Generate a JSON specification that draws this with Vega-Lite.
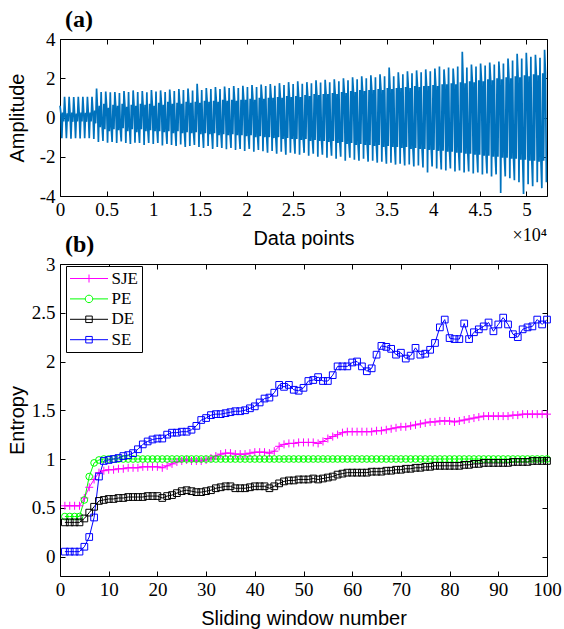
{
"$schema": "https://vega.github.io/schema/vega-lite/v6.json",
"background": "white",
"padding": {"left": 6, "top": 7, "right": 8, "bottom": 2},
"bounds": "flush",
"spacing": 68,
"resolve": {"scale": {"color": "independent", "shape": "independent"}},
"config": {
 "view": {"stroke": "black", "strokeWidth": 1},
 "axis": {"labelFont": "Liberation Serif", "labelFontSize": 19, "labelColor": "black", "titleFont": "Liberation Sans", "titleFontSize": 20, "titleFontWeight": "normal", "titleColor": "black", "tickColor": "black", "tickSize": -5, "domain": false, "grid": false, "labelFlush": false, "labelOverlap": false},
 "axisX": {"labelPadding": 9, "titlePadding": 9},
 "axisY": {"labelPadding": 10},
 "title": {"font": "Liberation Serif", "fontSize": 24, "fontWeight": "bold", "anchor": "start", "frame": "group", "color": "black", "offset": -2, "dx": 5}
},
"vconcat": [
{
 "width": 487, "height": 157,
 "title": "(a)",
 "layer": [
  {
   "data": {"values": [
{"t":0,"a":0.6},{"t":98,"a":0.2},{"t":196,"a":-1.05},{"t":294,"a":0.25},{"t":392,"a":-0.2},
{"t":490,"a":1.05},{"t":588,"a":0.15},{"t":686,"a":-1.05},{"t":784,"a":0.22},{"t":882,"a":-0.2},
{"t":980,"a":1.05},{"t":1078,"a":0.2},{"t":1176,"a":-1.08},{"t":1274,"a":0.25},{"t":1372,"a":-0.22},
{"t":1470,"a":1.04},{"t":1568,"a":0.18},{"t":1666,"a":-1.05},{"t":1764,"a":0.2},{"t":1862,"a":-0.2},
{"t":1960,"a":1.06},{"t":2058,"a":0.2},{"t":2156,"a":-1.07},{"t":2254,"a":0.25},{"t":2352,"a":-0.2},
{"t":2450,"a":1.05},{"t":2548,"a":0.22},{"t":2646,"a":-1.06},{"t":2744,"a":0.24},{"t":2842,"a":-0.22},
{"t":2940,"a":1.05},{"t":3038,"a":0.2},{"t":3136,"a":-1.05},{"t":3234,"a":0.25},{"t":3332,"a":-0.2},
{"t":3430,"a":1.06},{"t":3528,"a":0.3},{"t":3626,"a":-1.1},{"t":3724,"a":0.35},{"t":3822,"a":-0.3},
{"t":3920,"a":1.48},{"t":4018,"a":0.5},{"t":4116,"a":-1.25},{"t":4214,"a":0.6},{"t":4312,"a":-0.5},
{"t":4410,"a":1.3},{"t":4508,"a":-0.4},{"t":4606,"a":-1.2},{"t":4704,"a":0.7},{"t":4802,"a":-0.6},
{"t":4900,"a":1.32},{"t":4998,"a":0.6},{"t":5096,"a":-1.28},{"t":5194,"a":0.5},{"t":5292,"a":-0.7},
{"t":5390,"a":1.28},{"t":5488,"a":-0.5},{"t":5586,"a":-1.25},{"t":5684,"a":0.65},{"t":5782,"a":-0.6},
{"t":5880,"a":1.3},{"t":5978,"a":0.55},{"t":6076,"a":-1.3},{"t":6174,"a":0.6},{"t":6272,"a":-0.65},
{"t":6370,"a":1.25},{"t":6468,"a":-0.6},{"t":6566,"a":-1.22},{"t":6664,"a":0.7},{"t":6762,"a":-0.55},
{"t":6860,"a":1.35},{"t":6958,"a":0.6},{"t":7056,"a":-1.3},{"t":7154,"a":0.55},{"t":7252,"a":-0.7},
{"t":7350,"a":1.3},{"t":7448,"a":-0.5},{"t":7546,"a":-1.35},{"t":7644,"a":0.65},{"t":7742,"a":-0.6},
{"t":7840,"a":1.38},{"t":7938,"a":0.6},{"t":8036,"a":-1.28},{"t":8134,"a":0.6},{"t":8232,"a":-0.75},
{"t":8330,"a":1.3},{"t":8428,"a":-0.6},{"t":8526,"a":-1.3},{"t":8624,"a":0.7},{"t":8722,"a":-0.6},
{"t":8820,"a":1.35},{"t":8918,"a":0.55},{"t":9016,"a":-1.4},{"t":9114,"a":0.65},{"t":9212,"a":-0.7},
{"t":9310,"a":1.28},{"t":9408,"a":-0.6},{"t":9506,"a":-1.3},{"t":9604,"a":0.7},{"t":9702,"a":-0.65},
{"t":9800,"a":1.4},{"t":9898,"a":0.65},{"t":9996,"a":-1.35},{"t":10094,"a":0.6},{"t":10192,"a":-0.7},
{"t":10290,"a":1.32},{"t":10388,"a":-0.6},{"t":10486,"a":-1.3},{"t":10584,"a":0.75},{"t":10682,"a":-0.7},
{"t":10780,"a":1.38},{"t":10878,"a":0.7},{"t":10976,"a":-1.42},{"t":11074,"a":0.65},{"t":11172,"a":-0.75},
{"t":11270,"a":1.3},{"t":11368,"a":-0.65},{"t":11466,"a":-1.35},{"t":11564,"a":0.8},{"t":11662,"a":-0.7},
{"t":11760,"a":1.42},{"t":11858,"a":0.7},{"t":11956,"a":-1.4},{"t":12054,"a":0.7},{"t":12152,"a":-0.8},
{"t":12250,"a":1.35},{"t":12348,"a":-0.7},{"t":12446,"a":-1.45},{"t":12544,"a":0.75},{"t":12642,"a":-0.7},
{"t":12740,"a":1.45},{"t":12838,"a":0.75},{"t":12936,"a":-1.38},{"t":13034,"a":0.7},{"t":13132,"a":-0.8},
{"t":13230,"a":1.4},{"t":13328,"a":-0.7},{"t":13426,"a":-1.5},{"t":13524,"a":0.8},{"t":13622,"a":-0.75},
{"t":13720,"a":1.48},{"t":13818,"a":0.75},{"t":13916,"a":-1.45},{"t":14014,"a":0.75},{"t":14112,"a":-0.8},
{"t":14210,"a":1.38},{"t":14308,"a":-0.75},{"t":14406,"a":-1.4},{"t":14504,"a":0.8},{"t":14602,"a":-0.75},
{"t":14700,"a":1.72},{"t":14798,"a":0.8},{"t":14896,"a":-1.5},{"t":14994,"a":0.75},{"t":15092,"a":-0.85},
{"t":15190,"a":1.4},{"t":15288,"a":-0.75},{"t":15386,"a":-1.55},{"t":15484,"a":0.85},{"t":15582,"a":-0.8},
{"t":15680,"a":1.5},{"t":15778,"a":0.8},{"t":15876,"a":-1.45},{"t":15974,"a":0.8},{"t":16072,"a":-0.85},
{"t":16170,"a":1.45},{"t":16268,"a":-0.8},{"t":16366,"a":-1.6},{"t":16464,"a":0.85},{"t":16562,"a":-0.8},
{"t":16660,"a":1.55},{"t":16758,"a":0.85},{"t":16856,"a":-1.5},{"t":16954,"a":0.8},{"t":17052,"a":-0.9},
{"t":17150,"a":1.45},{"t":17248,"a":-0.8},{"t":17346,"a":-1.55},{"t":17444,"a":0.9},{"t":17542,"a":-0.85},
{"t":17640,"a":1.58},{"t":17738,"a":0.85},{"t":17836,"a":-1.62},{"t":17934,"a":0.85},{"t":18032,"a":-0.9},
{"t":18130,"a":1.5},{"t":18228,"a":-0.85},{"t":18326,"a":-1.55},{"t":18424,"a":0.9},{"t":18522,"a":-0.85},
{"t":18620,"a":1.6},{"t":18718,"a":0.9},{"t":18816,"a":-1.65},{"t":18914,"a":0.85},{"t":19012,"a":-0.9},
{"t":19110,"a":1.5},{"t":19208,"a":-0.85},{"t":19306,"a":-1.6},{"t":19404,"a":0.9},{"t":19502,"a":-0.9},
{"t":19600,"a":1.62},{"t":19698,"a":0.9},{"t":19796,"a":-1.7},{"t":19894,"a":0.9},{"t":19992,"a":-0.95},
{"t":20090,"a":1.55},{"t":20188,"a":-0.9},{"t":20286,"a":-1.6},{"t":20384,"a":0.95},{"t":20482,"a":-0.9},
{"t":20580,"a":1.65},{"t":20678,"a":0.95},{"t":20776,"a":-1.75},{"t":20874,"a":0.9},{"t":20972,"a":-1.0},
{"t":21070,"a":1.55},{"t":21168,"a":-0.9},{"t":21266,"a":-1.65},{"t":21364,"a":1.0},{"t":21462,"a":-0.95},
{"t":21560,"a":1.68},{"t":21658,"a":1.0},{"t":21756,"a":-1.72},{"t":21854,"a":0.95},{"t":21952,"a":-1.0},
{"t":22050,"a":1.6},{"t":22148,"a":-0.95},{"t":22246,"a":-1.8},{"t":22344,"a":1.0},{"t":22442,"a":-1.0},
{"t":22540,"a":1.7},{"t":22638,"a":1.0},{"t":22736,"a":-1.7},{"t":22834,"a":1.0},{"t":22932,"a":-1.05},
{"t":23030,"a":1.62},{"t":23128,"a":-1.0},{"t":23226,"a":-1.85},{"t":23324,"a":1.05},{"t":23422,"a":-1.0},
{"t":23520,"a":1.75},{"t":23618,"a":1.05},{"t":23716,"a":-1.75},{"t":23814,"a":1.0},{"t":23912,"a":-1.1},
{"t":24010,"a":1.65},{"t":24108,"a":-1.0},{"t":24206,"a":-1.9},{"t":24304,"a":1.1},{"t":24402,"a":-1.05},
{"t":24500,"a":1.8},{"t":24598,"a":1.05},{"t":24696,"a":-1.8},{"t":24794,"a":1.05},{"t":24892,"a":-1.1},
{"t":24990,"a":1.7},{"t":25088,"a":-1.05},{"t":25186,"a":-1.85},{"t":25284,"a":1.1},{"t":25382,"a":-1.1},
{"t":25480,"a":1.85},{"t":25578,"a":1.1},{"t":25676,"a":-1.9},{"t":25774,"a":1.05},{"t":25872,"a":-1.15},
{"t":25970,"a":1.72},{"t":26068,"a":-1.1},{"t":26166,"a":-1.8},{"t":26264,"a":1.15},{"t":26362,"a":-1.1},
{"t":26460,"a":1.8},{"t":26558,"a":1.1},{"t":26656,"a":-1.95},{"t":26754,"a":1.1},{"t":26852,"a":-1.2},
{"t":26950,"a":1.75},{"t":27048,"a":-1.1},{"t":27146,"a":-1.85},{"t":27244,"a":1.2},{"t":27342,"a":-1.15},
{"t":27440,"a":1.9},{"t":27538,"a":1.15},{"t":27636,"a":-2.0},{"t":27734,"a":1.15},{"t":27832,"a":-1.2},
{"t":27930,"a":1.78},{"t":28028,"a":-1.15},{"t":28126,"a":-1.9},{"t":28224,"a":1.2},{"t":28322,"a":-1.2},
{"t":28420,"a":1.92},{"t":28518,"a":1.2},{"t":28616,"a":-2.05},{"t":28714,"a":1.2},{"t":28812,"a":-1.25},
{"t":28910,"a":1.8},{"t":29008,"a":-1.2},{"t":29106,"a":-1.95},{"t":29204,"a":1.25},{"t":29302,"a":-1.2},
{"t":29400,"a":1.95},{"t":29498,"a":1.2},{"t":29596,"a":-2.1},{"t":29694,"a":1.2},{"t":29792,"a":-1.3},
{"t":29890,"a":1.85},{"t":29988,"a":-1.25},{"t":30086,"a":-2.0},{"t":30184,"a":1.3},{"t":30282,"a":-1.25},
{"t":30380,"a":2.0},{"t":30478,"a":1.3},{"t":30576,"a":-2.2},{"t":30674,"a":1.25},{"t":30772,"a":-1.35},
{"t":30870,"a":1.9},{"t":30968,"a":-1.3},{"t":31066,"a":-2.05},{"t":31164,"a":1.35},{"t":31262,"a":-1.3},
{"t":31360,"a":2.05},{"t":31458,"a":1.3},{"t":31556,"a":-2.15},{"t":31654,"a":1.3},{"t":31752,"a":-1.4},
{"t":31850,"a":1.95},{"t":31948,"a":-1.35},{"t":32046,"a":-2.2},{"t":32144,"a":1.4},{"t":32242,"a":-1.35},
{"t":32340,"a":2.1},{"t":32438,"a":1.35},{"t":32536,"a":-2.1},{"t":32634,"a":1.35},{"t":32732,"a":-1.4},
{"t":32830,"a":2.0},{"t":32928,"a":-1.4},{"t":33026,"a":-2.25},{"t":33124,"a":1.4},{"t":33222,"a":-1.4},
{"t":33320,"a":2.15},{"t":33418,"a":1.4},{"t":33516,"a":-2.2},{"t":33614,"a":1.4},{"t":33712,"a":-1.45},
{"t":33810,"a":2.05},{"t":33908,"a":-1.4},{"t":34006,"a":-2.3},{"t":34104,"a":1.45},{"t":34202,"a":-1.4},
{"t":34300,"a":2.2},{"t":34398,"a":1.45},{"t":34496,"a":-2.25},{"t":34594,"a":1.4},{"t":34692,"a":-1.5},
{"t":34790,"a":2.1},{"t":34888,"a":-1.45},{"t":34986,"a":-2.35},{"t":35084,"a":1.5},{"t":35182,"a":-1.45},
{"t":35280,"a":2.55},{"t":35378,"a":1.5},{"t":35476,"a":-2.3},{"t":35574,"a":1.45},{"t":35672,"a":-1.5},
{"t":35770,"a":2.1},{"t":35868,"a":-1.5},{"t":35966,"a":-2.4},{"t":36064,"a":1.5},{"t":36162,"a":-1.5},
{"t":36260,"a":2.3},{"t":36358,"a":1.5},{"t":36456,"a":-2.35},{"t":36554,"a":1.5},{"t":36652,"a":-1.55},
{"t":36750,"a":2.2},{"t":36848,"a":-1.5},{"t":36946,"a":-2.45},{"t":37044,"a":1.55},{"t":37142,"a":-1.5},
{"t":37240,"a":2.35},{"t":37338,"a":1.55},{"t":37436,"a":-2.4},{"t":37534,"a":1.5},{"t":37632,"a":-1.6},
{"t":37730,"a":2.25},{"t":37828,"a":-1.55},{"t":37926,"a":-2.5},{"t":38024,"a":1.6},{"t":38122,"a":-1.55},
{"t":38220,"a":2.4},{"t":38318,"a":1.6},{"t":38416,"a":-2.45},{"t":38514,"a":1.55},{"t":38612,"a":-1.6},
{"t":38710,"a":2.3},{"t":38808,"a":-1.6},{"t":38906,"a":-2.55},{"t":39004,"a":1.6},{"t":39102,"a":-1.6},
{"t":39200,"a":2.45},{"t":39298,"a":1.6},{"t":39396,"a":-2.8},{"t":39494,"a":1.6},{"t":39592,"a":-1.65},
{"t":39690,"a":2.35},{"t":39788,"a":-1.6},{"t":39886,"a":-2.5},{"t":39984,"a":1.65},{"t":40082,"a":-1.65},
{"t":40180,"a":2.5},{"t":40278,"a":1.65},{"t":40376,"a":-2.6},{"t":40474,"a":1.6},{"t":40572,"a":-1.7},
{"t":40670,"a":2.6},{"t":40768,"a":-1.65},{"t":40866,"a":-2.65},{"t":40964,"a":1.7},{"t":41062,"a":-1.7},
{"t":41160,"a":2.45},{"t":41258,"a":1.7},{"t":41356,"a":-2.7},{"t":41454,"a":1.7},{"t":41552,"a":-1.75},
{"t":41650,"a":2.55},{"t":41748,"a":-1.7},{"t":41846,"a":-2.6},{"t":41944,"a":1.75},{"t":42042,"a":-1.75},
{"t":42140,"a":2.5},{"t":42238,"a":1.75},{"t":42336,"a":-2.75},{"t":42434,"a":1.7},{"t":42532,"a":-1.8},
{"t":42630,"a":2.6},{"t":42728,"a":-1.75},{"t":42826,"a":-2.7},{"t":42924,"a":1.8},{"t":43022,"a":-1.8},
{"t":43120,"a":3.35},{"t":43218,"a":1.8},{"t":43316,"a":-2.8},{"t":43414,"a":1.75},{"t":43512,"a":-1.85},
{"t":43610,"a":2.55},{"t":43708,"a":-1.8},{"t":43806,"a":-2.75},{"t":43904,"a":1.85},{"t":44002,"a":-1.85},
{"t":44100,"a":2.7},{"t":44198,"a":1.85},{"t":44296,"a":-2.85},{"t":44394,"a":1.8},{"t":44492,"a":-1.9},
{"t":44590,"a":2.6},{"t":44688,"a":-1.85},{"t":44786,"a":-2.8},{"t":44884,"a":1.9},{"t":44982,"a":-1.9},
{"t":45080,"a":2.75},{"t":45178,"a":1.9},{"t":45276,"a":-2.9},{"t":45374,"a":1.85},{"t":45472,"a":-1.95},
{"t":45570,"a":2.65},{"t":45668,"a":-1.9},{"t":45766,"a":-2.85},{"t":45864,"a":1.95},{"t":45962,"a":-1.95},
{"t":46060,"a":2.8},{"t":46158,"a":1.95},{"t":46256,"a":-3.0},{"t":46354,"a":1.9},{"t":46452,"a":-2.0},
{"t":46550,"a":2.7},{"t":46648,"a":-1.95},{"t":46746,"a":-2.9},{"t":46844,"a":2.0},{"t":46942,"a":-2.0},
{"t":47040,"a":2.85},{"t":47138,"a":2.0},{"t":47236,"a":-3.85},{"t":47334,"a":1.95},{"t":47432,"a":-2.05},
{"t":47530,"a":2.75},{"t":47628,"a":-2.0},{"t":47726,"a":-3.0},{"t":47824,"a":2.05},{"t":47922,"a":-2.05},
{"t":48020,"a":3.0},{"t":48118,"a":2.05},{"t":48216,"a":-3.1},{"t":48314,"a":2.0},{"t":48412,"a":-2.1},
{"t":48510,"a":2.9},{"t":48608,"a":-2.05},{"t":48706,"a":-3.2},{"t":48804,"a":2.1},{"t":48902,"a":-2.1},
{"t":49000,"a":3.25},{"t":49098,"a":2.1},{"t":49196,"a":-3.3},{"t":49294,"a":2.05},{"t":49392,"a":-2.15},
{"t":49490,"a":3.0},{"t":49588,"a":-2.1},{"t":49686,"a":-3.9},{"t":49784,"a":2.15},{"t":49882,"a":-2.15},
{"t":49980,"a":3.3},{"t":50078,"a":2.15},{"t":50176,"a":-3.4},{"t":50274,"a":2.1},{"t":50372,"a":-2.2},
{"t":50470,"a":3.1},{"t":50568,"a":-2.15},{"t":50666,"a":-3.5},{"t":50764,"a":2.2},{"t":50862,"a":-2.2},
{"t":50960,"a":3.2},{"t":51058,"a":2.2},{"t":51156,"a":-3.3},{"t":51254,"a":2.15},{"t":51352,"a":-2.25},
{"t":51450,"a":3.05},{"t":51548,"a":-2.2},{"t":51646,"a":-3.6},{"t":51744,"a":2.25},{"t":51842,"a":-2.2},
{"t":51940,"a":3.45},{"t":52038,"a":2.25},{"t":52136,"a":-3.3}
   ]},
   "mark": {"type": "line", "color": "#0072BD", "strokeWidth": 1.7},
   "encoding": {
    "x": {"field": "t", "type": "quantitative", "scale": {"domain": [0, 52200], "nice": false, "zero": false},
          "axis": {"values": [0,5000,10000,15000,20000,25000,30000,35000,40000,45000,50000], "labelExpr": "'' + datum.value / 10000", "title": "Data points"}},
    "y": {"field": "a", "type": "quantitative", "scale": {"domain": [-4, 4], "nice": false},
          "axis": {"values": [-4,-2,0,2,4], "labelExpr": "'' + datum.value", "title": "Amplitude", "titlePadding": 12}}
   }
  },
  {
   "data": {"values": [{"label": "×10⁴"}]},
   "mark": {"type": "text", "align": "right", "baseline": "top", "dy": 31, "font": "Liberation Serif", "fontSize": 18, "color": "black"},
   "encoding": {
    "x": {"datum": 52200, "type": "quantitative", "axis": {"orient": "top", "values": [0,5000,10000,15000,20000,25000,30000,35000,40000,45000,50000], "labels": false, "title": null}},
    "y": {"datum": -4, "type": "quantitative", "axis": {"orient": "right", "values": [-4,-2,0,2,4], "labels": false, "title": null}},
    "text": {"field": "label", "type": "nominal"}
   }
  }
 ],
 "resolve": {"axis": {"x": "independent", "y": "independent"}}
},
{
 "width": 487, "height": 312,
 "title": "(b)",
 "data": {"values": [
{"n":1,"s":"SJE","v":0.52},{"n":2,"s":"SJE","v":0.52},{"n":3,"s":"SJE","v":0.52},{"n":4,"s":"SJE","v":0.52},{"n":5,"s":"SJE","v":0.60},{"n":6,"s":"SJE","v":0.71},{"n":7,"s":"SJE","v":0.79},{"n":8,"s":"SJE","v":0.86},{"n":9,"s":"SJE","v":0.88},{"n":10,"s":"SJE","v":0.89},
{"n":11,"s":"SJE","v":0.89},{"n":12,"s":"SJE","v":0.90},{"n":13,"s":"SJE","v":0.90},{"n":14,"s":"SJE","v":0.91},{"n":15,"s":"SJE","v":0.91},{"n":16,"s":"SJE","v":0.91},{"n":17,"s":"SJE","v":0.92},{"n":18,"s":"SJE","v":0.92},{"n":19,"s":"SJE","v":0.92},{"n":20,"s":"SJE","v":0.92},
{"n":21,"s":"SJE","v":0.91},{"n":22,"s":"SJE","v":0.93},{"n":23,"s":"SJE","v":0.95},{"n":24,"s":"SJE","v":0.97},{"n":25,"s":"SJE","v":0.98},{"n":26,"s":"SJE","v":0.99},{"n":27,"s":"SJE","v":0.98},{"n":28,"s":"SJE","v":0.98},{"n":29,"s":"SJE","v":0.98},{"n":30,"s":"SJE","v":0.99},
{"n":31,"s":"SJE","v":1.01},{"n":32,"s":"SJE","v":1.03},{"n":33,"s":"SJE","v":1.05},{"n":34,"s":"SJE","v":1.06},{"n":35,"s":"SJE","v":1.06},{"n":36,"s":"SJE","v":1.05},{"n":37,"s":"SJE","v":1.05},{"n":38,"s":"SJE","v":1.05},{"n":39,"s":"SJE","v":1.06},{"n":40,"s":"SJE","v":1.07},
{"n":41,"s":"SJE","v":1.07},{"n":42,"s":"SJE","v":1.07},{"n":43,"s":"SJE","v":1.06},{"n":44,"s":"SJE","v":1.08},{"n":45,"s":"SJE","v":1.13},{"n":46,"s":"SJE","v":1.15},{"n":47,"s":"SJE","v":1.16},{"n":48,"s":"SJE","v":1.16},{"n":49,"s":"SJE","v":1.17},{"n":50,"s":"SJE","v":1.17},
{"n":51,"s":"SJE","v":1.17},{"n":52,"s":"SJE","v":1.17},{"n":53,"s":"SJE","v":1.16},{"n":54,"s":"SJE","v":1.18},{"n":55,"s":"SJE","v":1.21},{"n":56,"s":"SJE","v":1.23},{"n":57,"s":"SJE","v":1.25},{"n":58,"s":"SJE","v":1.27},{"n":59,"s":"SJE","v":1.28},{"n":60,"s":"SJE","v":1.28},
{"n":61,"s":"SJE","v":1.28},{"n":62,"s":"SJE","v":1.28},{"n":63,"s":"SJE","v":1.28},{"n":64,"s":"SJE","v":1.28},{"n":65,"s":"SJE","v":1.29},{"n":66,"s":"SJE","v":1.29},{"n":67,"s":"SJE","v":1.30},{"n":68,"s":"SJE","v":1.31},{"n":69,"s":"SJE","v":1.32},{"n":70,"s":"SJE","v":1.33},
{"n":71,"s":"SJE","v":1.33},{"n":72,"s":"SJE","v":1.34},{"n":73,"s":"SJE","v":1.35},{"n":74,"s":"SJE","v":1.36},{"n":75,"s":"SJE","v":1.37},{"n":76,"s":"SJE","v":1.38},{"n":77,"s":"SJE","v":1.38},{"n":78,"s":"SJE","v":1.39},{"n":79,"s":"SJE","v":1.39},{"n":80,"s":"SJE","v":1.39},
{"n":81,"s":"SJE","v":1.38},{"n":82,"s":"SJE","v":1.39},{"n":83,"s":"SJE","v":1.40},{"n":84,"s":"SJE","v":1.41},{"n":85,"s":"SJE","v":1.42},{"n":86,"s":"SJE","v":1.43},{"n":87,"s":"SJE","v":1.44},{"n":88,"s":"SJE","v":1.44},{"n":89,"s":"SJE","v":1.44},{"n":90,"s":"SJE","v":1.44},
{"n":91,"s":"SJE","v":1.44},{"n":92,"s":"SJE","v":1.44},{"n":93,"s":"SJE","v":1.45},{"n":94,"s":"SJE","v":1.45},{"n":95,"s":"SJE","v":1.46},{"n":96,"s":"SJE","v":1.46},{"n":97,"s":"SJE","v":1.46},{"n":98,"s":"SJE","v":1.46},{"n":99,"s":"SJE","v":1.46},{"n":100,"s":"SJE","v":1.46},
{"n":1,"s":"PE","v":0.41},{"n":2,"s":"PE","v":0.41},{"n":3,"s":"PE","v":0.41},{"n":4,"s":"PE","v":0.41},{"n":5,"s":"PE","v":0.58},{"n":6,"s":"PE","v":0.82},{"n":7,"s":"PE","v":0.96},{"n":8,"s":"PE","v":0.99},{"n":9,"s":"PE","v":1.0},{"n":10,"s":"PE","v":1.0},
{"n":11,"s":"PE","v":1.0},{"n":12,"s":"PE","v":1.0},{"n":13,"s":"PE","v":1.0},{"n":14,"s":"PE","v":1.0},{"n":15,"s":"PE","v":1.0},{"n":16,"s":"PE","v":1.0},{"n":17,"s":"PE","v":1.0},{"n":18,"s":"PE","v":1.0},{"n":19,"s":"PE","v":1.0},{"n":20,"s":"PE","v":1.0},
{"n":21,"s":"PE","v":1.0},{"n":22,"s":"PE","v":1.0},{"n":23,"s":"PE","v":1.0},{"n":24,"s":"PE","v":1.0},{"n":25,"s":"PE","v":1.0},{"n":26,"s":"PE","v":1.0},{"n":27,"s":"PE","v":1.0},{"n":28,"s":"PE","v":1.0},{"n":29,"s":"PE","v":1.0},{"n":30,"s":"PE","v":1.0},
{"n":31,"s":"PE","v":1.0},{"n":32,"s":"PE","v":1.0},{"n":33,"s":"PE","v":1.0},{"n":34,"s":"PE","v":1.0},{"n":35,"s":"PE","v":1.0},{"n":36,"s":"PE","v":1.0},{"n":37,"s":"PE","v":1.0},{"n":38,"s":"PE","v":1.0},{"n":39,"s":"PE","v":1.0},{"n":40,"s":"PE","v":1.0},
{"n":41,"s":"PE","v":1.0},{"n":42,"s":"PE","v":1.0},{"n":43,"s":"PE","v":1.0},{"n":44,"s":"PE","v":1.0},{"n":45,"s":"PE","v":1.0},{"n":46,"s":"PE","v":1.0},{"n":47,"s":"PE","v":1.0},{"n":48,"s":"PE","v":1.0},{"n":49,"s":"PE","v":1.0},{"n":50,"s":"PE","v":1.0},
{"n":51,"s":"PE","v":1.0},{"n":52,"s":"PE","v":1.0},{"n":53,"s":"PE","v":1.0},{"n":54,"s":"PE","v":1.0},{"n":55,"s":"PE","v":1.0},{"n":56,"s":"PE","v":1.0},{"n":57,"s":"PE","v":1.0},{"n":58,"s":"PE","v":1.0},{"n":59,"s":"PE","v":1.0},{"n":60,"s":"PE","v":1.0},
{"n":61,"s":"PE","v":1.0},{"n":62,"s":"PE","v":1.0},{"n":63,"s":"PE","v":1.0},{"n":64,"s":"PE","v":1.0},{"n":65,"s":"PE","v":1.0},{"n":66,"s":"PE","v":1.0},{"n":67,"s":"PE","v":1.0},{"n":68,"s":"PE","v":1.0},{"n":69,"s":"PE","v":1.0},{"n":70,"s":"PE","v":1.0},
{"n":71,"s":"PE","v":1.0},{"n":72,"s":"PE","v":1.0},{"n":73,"s":"PE","v":1.0},{"n":74,"s":"PE","v":1.0},{"n":75,"s":"PE","v":1.0},{"n":76,"s":"PE","v":1.0},{"n":77,"s":"PE","v":1.0},{"n":78,"s":"PE","v":1.0},{"n":79,"s":"PE","v":1.0},{"n":80,"s":"PE","v":1.0},
{"n":81,"s":"PE","v":1.0},{"n":82,"s":"PE","v":1.0},{"n":83,"s":"PE","v":1.0},{"n":84,"s":"PE","v":1.0},{"n":85,"s":"PE","v":1.0},{"n":86,"s":"PE","v":1.0},{"n":87,"s":"PE","v":1.0},{"n":88,"s":"PE","v":1.0},{"n":89,"s":"PE","v":1.0},{"n":90,"s":"PE","v":1.0},
{"n":91,"s":"PE","v":1.0},{"n":92,"s":"PE","v":1.0},{"n":93,"s":"PE","v":1.0},{"n":94,"s":"PE","v":1.0},{"n":95,"s":"PE","v":1.0},{"n":96,"s":"PE","v":1.0},{"n":97,"s":"PE","v":1.0},{"n":98,"s":"PE","v":1.0},{"n":99,"s":"PE","v":1.0},{"n":100,"s":"PE","v":1.0},
{"n":1,"s":"DE","v":0.35},{"n":2,"s":"DE","v":0.35},{"n":3,"s":"DE","v":0.35},{"n":4,"s":"DE","v":0.35},{"n":5,"s":"DE","v":0.39},{"n":6,"s":"DE","v":0.45},{"n":7,"s":"DE","v":0.51},{"n":8,"s":"DE","v":0.57},{"n":9,"s":"DE","v":0.58},{"n":10,"s":"DE","v":0.59},
{"n":11,"s":"DE","v":0.59},{"n":12,"s":"DE","v":0.60},{"n":13,"s":"DE","v":0.60},{"n":14,"s":"DE","v":0.61},{"n":15,"s":"DE","v":0.61},{"n":16,"s":"DE","v":0.61},{"n":17,"s":"DE","v":0.61},{"n":18,"s":"DE","v":0.62},{"n":19,"s":"DE","v":0.62},{"n":20,"s":"DE","v":0.62},
{"n":21,"s":"DE","v":0.60},{"n":22,"s":"DE","v":0.62},{"n":23,"s":"DE","v":0.63},{"n":24,"s":"DE","v":0.65},{"n":25,"s":"DE","v":0.67},{"n":26,"s":"DE","v":0.68},{"n":27,"s":"DE","v":0.67},{"n":28,"s":"DE","v":0.66},{"n":29,"s":"DE","v":0.66},{"n":30,"s":"DE","v":0.67},
{"n":31,"s":"DE","v":0.68},{"n":32,"s":"DE","v":0.70},{"n":33,"s":"DE","v":0.71},{"n":34,"s":"DE","v":0.72},{"n":35,"s":"DE","v":0.72},{"n":36,"s":"DE","v":0.70},{"n":37,"s":"DE","v":0.70},{"n":38,"s":"DE","v":0.70},{"n":39,"s":"DE","v":0.71},{"n":40,"s":"DE","v":0.72},
{"n":41,"s":"DE","v":0.72},{"n":42,"s":"DE","v":0.72},{"n":43,"s":"DE","v":0.70},{"n":44,"s":"DE","v":0.72},{"n":45,"s":"DE","v":0.75},{"n":46,"s":"DE","v":0.77},{"n":47,"s":"DE","v":0.78},{"n":48,"s":"DE","v":0.78},{"n":49,"s":"DE","v":0.79},{"n":50,"s":"DE","v":0.79},
{"n":51,"s":"DE","v":0.79},{"n":52,"s":"DE","v":0.80},{"n":53,"s":"DE","v":0.79},{"n":54,"s":"DE","v":0.80},{"n":55,"s":"DE","v":0.81},{"n":56,"s":"DE","v":0.82},{"n":57,"s":"DE","v":0.84},{"n":58,"s":"DE","v":0.85},{"n":59,"s":"DE","v":0.86},{"n":60,"s":"DE","v":0.86},
{"n":61,"s":"DE","v":0.86},{"n":62,"s":"DE","v":0.86},{"n":63,"s":"DE","v":0.86},{"n":64,"s":"DE","v":0.87},{"n":65,"s":"DE","v":0.87},{"n":66,"s":"DE","v":0.87},{"n":67,"s":"DE","v":0.88},{"n":68,"s":"DE","v":0.88},{"n":69,"s":"DE","v":0.89},{"n":70,"s":"DE","v":0.89},
{"n":71,"s":"DE","v":0.90},{"n":72,"s":"DE","v":0.90},{"n":73,"s":"DE","v":0.91},{"n":74,"s":"DE","v":0.91},{"n":75,"s":"DE","v":0.92},{"n":76,"s":"DE","v":0.92},{"n":77,"s":"DE","v":0.93},{"n":78,"s":"DE","v":0.93},{"n":79,"s":"DE","v":0.93},{"n":80,"s":"DE","v":0.93},
{"n":81,"s":"DE","v":0.93},{"n":82,"s":"DE","v":0.93},{"n":83,"s":"DE","v":0.94},{"n":84,"s":"DE","v":0.94},{"n":85,"s":"DE","v":0.95},{"n":86,"s":"DE","v":0.95},{"n":87,"s":"DE","v":0.96},{"n":88,"s":"DE","v":0.96},{"n":89,"s":"DE","v":0.96},{"n":90,"s":"DE","v":0.96},
{"n":91,"s":"DE","v":0.96},{"n":92,"s":"DE","v":0.96},{"n":93,"s":"DE","v":0.97},{"n":94,"s":"DE","v":0.97},{"n":95,"s":"DE","v":0.97},{"n":96,"s":"DE","v":0.97},{"n":97,"s":"DE","v":0.98},{"n":98,"s":"DE","v":0.98},{"n":99,"s":"DE","v":0.98},{"n":100,"s":"DE","v":0.98},
{"n":1,"s":"SE","v":0.05},{"n":2,"s":"SE","v":0.05},{"n":3,"s":"SE","v":0.05},{"n":4,"s":"SE","v":0.05},{"n":5,"s":"SE","v":0.10},{"n":6,"s":"SE","v":0.20},{"n":7,"s":"SE","v":0.40},{"n":8,"s":"SE","v":0.82},{"n":9,"s":"SE","v":0.98},{"n":10,"s":"SE","v":0.99},
{"n":11,"s":"SE","v":1.00},{"n":12,"s":"SE","v":1.01},{"n":13,"s":"SE","v":1.03},{"n":14,"s":"SE","v":1.04},{"n":15,"s":"SE","v":1.06},{"n":16,"s":"SE","v":1.10},{"n":17,"s":"SE","v":1.15},{"n":18,"s":"SE","v":1.18},{"n":19,"s":"SE","v":1.20},{"n":20,"s":"SE","v":1.21},
{"n":21,"s":"SE","v":1.21},{"n":22,"s":"SE","v":1.25},{"n":23,"s":"SE","v":1.27},{"n":24,"s":"SE","v":1.27},{"n":25,"s":"SE","v":1.28},{"n":26,"s":"SE","v":1.28},{"n":27,"s":"SE","v":1.30},{"n":28,"s":"SE","v":1.34},{"n":29,"s":"SE","v":1.40},{"n":30,"s":"SE","v":1.42},
{"n":31,"s":"SE","v":1.45},{"n":32,"s":"SE","v":1.46},{"n":33,"s":"SE","v":1.46},{"n":34,"s":"SE","v":1.47},{"n":35,"s":"SE","v":1.48},{"n":36,"s":"SE","v":1.49},{"n":37,"s":"SE","v":1.49},{"n":38,"s":"SE","v":1.50},{"n":39,"s":"SE","v":1.52},{"n":40,"s":"SE","v":1.54},
{"n":41,"s":"SE","v":1.58},{"n":42,"s":"SE","v":1.62},{"n":43,"s":"SE","v":1.63},{"n":44,"s":"SE","v":1.68},{"n":45,"s":"SE","v":1.76},{"n":46,"s":"SE","v":1.74},{"n":47,"s":"SE","v":1.76},{"n":48,"s":"SE","v":1.71},{"n":49,"s":"SE","v":1.70},{"n":50,"s":"SE","v":1.73},
{"n":51,"s":"SE","v":1.80},{"n":52,"s":"SE","v":1.81},{"n":53,"s":"SE","v":1.84},{"n":54,"s":"SE","v":1.80},{"n":55,"s":"SE","v":1.80},{"n":56,"s":"SE","v":1.86},{"n":57,"s":"SE","v":1.95},{"n":58,"s":"SE","v":1.95},{"n":59,"s":"SE","v":1.95},{"n":60,"s":"SE","v":1.99},
{"n":61,"s":"SE","v":2.00},{"n":62,"s":"SE","v":1.95},{"n":63,"s":"SE","v":1.90},{"n":64,"s":"SE","v":1.93},{"n":65,"s":"SE","v":2.07},{"n":66,"s":"SE","v":2.16},{"n":67,"s":"SE","v":2.15},{"n":68,"s":"SE","v":2.13},{"n":69,"s":"SE","v":2.07},{"n":70,"s":"SE","v":2.09},
{"n":71,"s":"SE","v":2.03},{"n":72,"s":"SE","v":2.06},{"n":73,"s":"SE","v":2.14},{"n":74,"s":"SE","v":2.07},{"n":75,"s":"SE","v":2.08},{"n":76,"s":"SE","v":2.12},{"n":77,"s":"SE","v":2.19},{"n":78,"s":"SE","v":2.35},{"n":79,"s":"SE","v":2.43},{"n":80,"s":"SE","v":2.24},
{"n":81,"s":"SE","v":2.23},{"n":82,"s":"SE","v":2.23},{"n":83,"s":"SE","v":2.39},{"n":84,"s":"SE","v":2.23},{"n":85,"s":"SE","v":2.30},{"n":86,"s":"SE","v":2.33},{"n":87,"s":"SE","v":2.36},{"n":88,"s":"SE","v":2.40},{"n":89,"s":"SE","v":2.31},{"n":90,"s":"SE","v":2.38},
{"n":91,"s":"SE","v":2.45},{"n":92,"s":"SE","v":2.38},{"n":93,"s":"SE","v":2.28},{"n":94,"s":"SE","v":2.25},{"n":95,"s":"SE","v":2.33},{"n":96,"s":"SE","v":2.35},{"n":97,"s":"SE","v":2.36},{"n":98,"s":"SE","v":2.43},{"n":99,"s":"SE","v":2.38},{"n":100,"s":"SE","v":2.43}
 ]},
 "layer": [
  {
   "mark": {"type": "line", "strokeWidth": 1},
   "encoding": {
    "x": {"field": "n", "type": "quantitative", "scale": {"domain": [0, 100], "nice": false},
          "axis": {"values": [0,10,20,30,40,50,60,70,80,90,100], "title": "Sliding window number"}},
    "y": {"field": "v", "type": "quantitative", "scale": {"domain": [-0.2, 3], "nice": false, "zero": false},
          "axis": {"values": [0,0.5,1,1.5,2,2.5,3], "labelExpr": "'' + datum.value", "title": "Entropy", "titlePadding": 4}},
    "color": {"field": "s", "type": "nominal", "sort": ["SJE","PE","DE","SE"],
              "scale": {"domain": ["SJE","PE","DE","SE"], "range": ["#FF00FF","#00FF00","#000000","#0000FF"]},
              "legend": null}
   }
  },
  {
   "mark": {"type": "point", "filled": false, "strokeWidth": 1, "size": 45, "opacity": 1},
   "encoding": {
    "x": {"field": "n", "type": "quantitative", "axis": {"orient": "top", "values": [0,10,20,30,40,50,60,70,80,90,100], "labels": false, "title": null}},
    "y": {"field": "v", "type": "quantitative", "axis": {"orient": "right", "values": [0,0.5,1,1.5,2,2.5,3], "labels": false, "title": null}},
    "color": {"field": "s", "type": "nominal", "sort": ["SJE","PE","DE","SE"],
              "scale": {"domain": ["SJE","PE","DE","SE"], "range": ["#FF00FF","#00FF00","#000000","#0000FF"]},
              "legend": null},
    "shape": {"field": "s", "type": "nominal", "scale": {"domain": ["SJE","PE","DE","SE"], "range": ["M-1.2,0H1.2M0,-1.2V1.2", "circle", "square", "square"]}, "legend": null}
   }
  },
  {
   "transform": [{"filter": "datum.n < 0"}],
   "mark": {"type": "point", "filled": false, "strokeWidth": 1, "size": 100, "opacity": 1},
   "encoding": {
    "x": {"field": "n", "type": "quantitative", "axis": null},
    "y": {"field": "v", "type": "quantitative", "axis": null},
    "color": {"field": "s", "type": "nominal", "sort": ["SJE","PE","DE","SE"],
              "scale": {"domain": ["SJE","PE","DE","SE"], "range": ["#FF00FF","#00FF00","#000000","#0000FF"]},
              "legend": {"title": null, "orient": "none", "legendX": 6, "legendY": 2,
                         "symbolSize": 100, "symbolStrokeWidth": 1, "symbolOffset": 10.5, "labelOffset": 14, "symbolOpacity": 1,
                         "labelFont": "Liberation Serif", "labelFontSize": 17, "labelColor": "black",
                         "strokeColor": "black", "fillColor": "white", "padding": 4, "rowPadding": 2.4}},
    "shape": {"field": "s", "type": "nominal", "sort": ["SJE","PE","DE","SE"],
              "scale": {"domain": ["SJE","PE","DE","SE"], "range": ["M-3.8,0H3.8M0,-0.8V0.8", "M-3.8,0H-0.75M0.75,0H3.8M0.75,0A0.75,0.75 0 1,1 -0.75,0A0.75,0.75 0 1,1 0.75,0", "M-3.8,0H3.8M-0.65,-0.65H0.65V0.65H-0.65Z", "M-3.8,0H3.8M-0.65,-0.65H0.65V0.65H-0.65Z"]},
              "legend": {"title": null, "orient": "none", "legendX": 6, "legendY": 2,
                         "symbolSize": 100, "symbolStrokeWidth": 1, "symbolOffset": 10.5, "labelOffset": 14, "symbolOpacity": 1,
                         "labelFont": "Liberation Serif", "labelFontSize": 17, "labelColor": "black",
                         "strokeColor": "black", "fillColor": "white", "padding": 4, "rowPadding": 2.4}}
   }
  }
 ],
 "resolve": {"axis": {"x": "independent", "y": "independent"}, "scale": {"shape": "independent", "color": "independent"}}
}
]
}
